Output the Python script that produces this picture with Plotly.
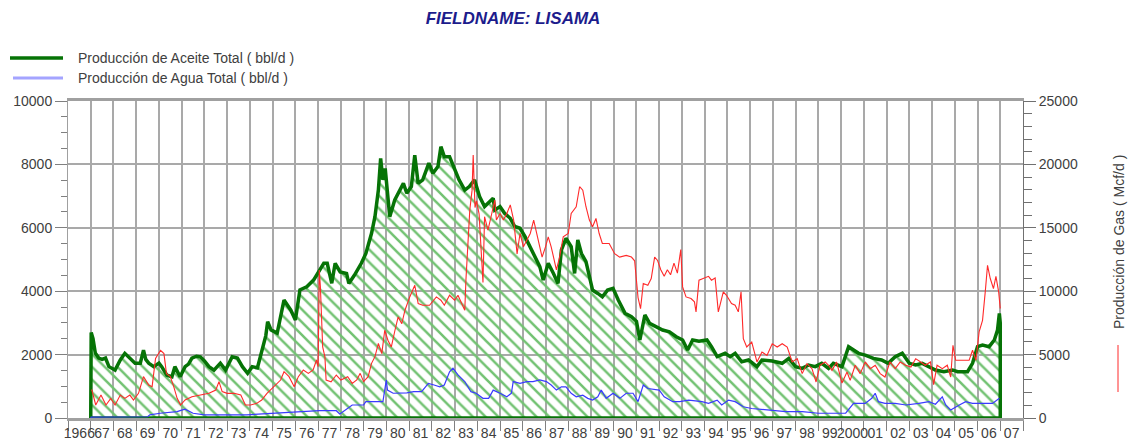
import plotly.graph_objects as go

# ---------------- data ----------------
oil_t = [1967.0, 1967.02, 1967.1, 1967.2, 1967.35, 1967.5, 1967.65, 1967.8, 1968.07, 1968.3, 1968.5, 1968.73,
         1968.95, 1969.18, 1969.32, 1969.42, 1969.55, 1969.77, 1970.0, 1970.12, 1970.35, 1970.57, 1970.7,
         1970.93, 1971.15, 1971.3, 1971.45, 1971.65, 1971.82, 1972.0, 1972.2, 1972.42, 1972.7, 1972.93,
         1973.22, 1973.45, 1973.67, 1973.9, 1974.1, 1974.33, 1974.55, 1974.7, 1974.78, 1974.93, 1975.2,
         1975.5, 1975.8, 1976.0, 1976.2, 1976.5, 1976.8, 1977.03, 1977.25, 1977.4, 1977.6, 1977.75, 1977.97,
         1978.25, 1978.35, 1978.6, 1978.9, 1979.1, 1979.35, 1979.5, 1979.65, 1979.75, 1979.85, 1979.95,
         1980.15, 1980.37, 1980.6, 1980.75, 1980.9, 1981.1, 1981.25, 1981.4, 1981.6, 1981.87, 1982.05,
         1982.27, 1982.4, 1982.55, 1982.78, 1983.0, 1983.2, 1983.45, 1983.65, 1983.88, 1984.1, 1984.32,
         1984.47, 1984.7, 1984.77, 1985.0, 1985.2, 1985.45, 1985.65, 1985.88, 1986.1, 1986.32, 1986.55,
         1986.75, 1986.9, 1987.12, 1987.35, 1987.55, 1987.7, 1987.9, 1988.13, 1988.28, 1988.42, 1988.58,
         1988.78, 1989.07, 1989.3, 1989.5, 1989.73, 1989.97, 1990.2, 1990.5, 1990.78, 1991.0, 1991.15,
         1991.37, 1991.58, 1991.85, 1992.15, 1992.45, 1992.75, 1993.03, 1993.25, 1993.47, 1993.75, 1994.1,
         1994.3, 1994.55, 1994.9, 1995.12, 1995.34, 1995.63, 1995.93, 1996.3, 1996.52, 1996.97, 1997.41,
         1997.7, 1998.0, 1998.29, 1998.57, 1998.86, 1999.15, 1999.45, 1999.66, 2000.04, 2000.33, 2000.55,
         2000.77, 2001.06, 2001.42, 2001.78, 2002.07, 2002.38, 2002.69, 2003.0, 2003.28, 2003.57, 2003.86,
         2004.15, 2004.52, 2004.9, 2005.12, 2005.56, 2005.78, 2006.0, 2006.22, 2006.51, 2006.74, 2006.88,
         2006.96, 2007.0, 2007.0]
oil_v = [0, 2700, 2500, 2050, 1890, 1850, 1890, 1620, 1510, 1830, 2040, 1890,
         1730, 1730, 2140, 1850, 1730, 1620, 1730, 1620, 1350, 1300, 1620,
         1300, 1620, 1700, 1890, 1950, 1930, 1800, 1620, 1510, 1730, 1510,
         1930, 1890, 1620, 1410, 1620, 1580, 2140, 2600, 3040, 2780, 2680,
         3720, 3400, 3090, 4040, 4140, 4350, 4610, 4880, 4880, 4250, 4880, 4610,
         4560, 4245, 4510, 4880, 5190, 5825, 6350, 7190, 8190, 7510, 7870,
         6350, 6880, 7190, 7400, 7090, 7300, 8290, 7400, 7510, 8040, 7720,
         7930, 8560, 8245, 8245, 7830, 7510, 7190, 7300, 7510, 6985, 6670,
         6770, 6930, 6560, 6670, 6460, 6300, 6040, 5985, 5720, 5410, 5090,
         4775, 4350, 4880, 4560, 4245, 5300, 5670, 5410, 4560, 5615, 5190,
         4930, 4035, 3930, 3825, 4035, 4090, 3720, 3300, 3195, 3050, 2460,
         3250, 2985, 2880, 2775, 2720, 2565, 2460, 2145, 2460, 2420, 2460,
         2250, 1935, 2040, 1935, 2040, 1775, 1830, 1620, 1830, 1800, 1725,
         1880, 1620, 1565, 1670, 1620, 1725, 1565, 1725, 1620, 2250, 2145,
         2040, 1985, 1880, 1830, 1725, 1935, 2040, 1725, 1670, 1725, 1620,
         1515, 1460, 1515, 1460, 1460, 1725, 2250, 2300, 2250, 2460, 2775,
         3300, 3000, 0]

water_t = [1967.0, 1967.02, 1969.5, 1969.6, 1970.05, 1970.8, 1971.0, 1971.15, 1971.5, 1972.0, 1973.85, 1975.0,
           1977.05, 1977.8, 1977.95, 1978.0, 1978.5, 1979.0, 1979.1, 1979.85, 1980.0, 1980.05, 1980.3, 1980.9,
           1981.2, 1981.55, 1981.85, 1982.1, 1982.35, 1982.55, 1982.78, 1982.93, 1983.15, 1983.45, 1983.72,
           1983.95, 1984.25, 1984.5, 1984.7, 1985.0, 1985.3, 1985.5, 1985.58, 1985.88, 1986.18, 1986.45,
           1986.75, 1987.04, 1987.25, 1987.48, 1987.7, 1987.9, 1988.13, 1988.35, 1988.64, 1988.86, 1989.07,
           1989.3, 1989.45, 1989.67, 1989.97, 1990.27, 1990.55, 1990.85, 1991.07, 1991.3, 1991.5, 1992.0,
           1992.22, 1992.6, 1992.9, 1993.3, 1993.88, 1994.17, 1994.55, 1994.75, 1995.05, 1995.34, 1995.7,
           1996.07, 1996.8, 1997.56, 1998.3, 1999.0, 1999.7, 2000.2, 2000.55, 2001.06, 2001.35, 2001.5,
           2001.64, 2001.93, 2002.38, 2002.85, 2003.42, 2003.86, 2004.15, 2004.45, 2004.6, 2004.82, 2005.2,
           2005.48, 2005.78, 2006.22, 2006.66, 2006.96]
water_v = [0, 30, 40, 100, 150, 200, 250, 280, 150, 100, 100, 150,
           230, 230, 125, 150, 410, 415, 515, 515, 1200, 880, 780, 790,
           830, 830, 1090, 1040, 985, 1040, 1460, 1570, 1360, 1150, 830,
           780, 620, 620, 880, 780, 670, 780, 1150, 1090, 1150, 1150,
           1200, 1150, 1040, 880, 985, 985, 780, 670, 720, 620, 565,
           670, 880, 620, 780, 620, 780, 780, 515, 1040, 930, 880,
           670, 515, 515, 565, 515, 460, 565, 410, 565, 515, 355,
           300, 250, 200, 200, 150, 150, 150, 460, 460, 620, 780,
           515, 460, 460, 410, 460, 515, 435, 670, 410, 250, 410,
           515, 460, 460, 460, 620]

gas_t = [1967.02, 1967.05, 1967.22, 1967.45, 1967.67, 1967.88, 1968.07, 1968.3, 1968.5, 1968.72, 1968.88, 1969.1,
         1969.32, 1969.55, 1969.7, 1969.85, 1970.07, 1970.22, 1970.33, 1970.5, 1970.65, 1970.8, 1970.95,
         1971.15, 1971.45, 1971.82, 1972.2, 1972.5, 1972.64, 1972.78, 1973.0, 1973.3, 1973.6, 1973.8,
         1974.03, 1974.3, 1974.52, 1974.75, 1974.9, 1975.12, 1975.35, 1975.5, 1975.72, 1975.95, 1976.13,
         1976.35, 1976.57, 1976.78, 1976.93, 1977.0, 1977.05, 1977.1, 1977.2, 1977.3, 1977.35, 1977.57,
         1977.8, 1978.0, 1978.3, 1978.5, 1978.7, 1978.85, 1979.0, 1979.2, 1979.35, 1979.5, 1979.65, 1979.8,
         1979.93, 1980.07, 1980.22, 1980.38, 1980.52, 1980.68, 1980.82, 1981.03, 1981.25, 1981.4, 1981.6,
         1981.9, 1982.2, 1982.4, 1982.55, 1982.78, 1983.0, 1983.15, 1983.3, 1983.45, 1983.5, 1983.6,
         1983.67, 1983.77, 1983.82, 1983.9, 1983.97, 1984.08, 1984.18, 1984.25, 1984.32, 1984.47, 1984.62,
         1984.77, 1984.84, 1985.0, 1985.15, 1985.3, 1985.45, 1985.6, 1985.75, 1985.88, 1986.03, 1986.18,
         1986.33, 1986.48, 1986.62, 1986.85, 1987.0, 1987.12, 1987.25, 1987.48, 1987.62, 1987.78, 1988.0,
         1988.13, 1988.35, 1988.5, 1988.64, 1988.78, 1988.93, 1989.07, 1989.22, 1989.36, 1989.5, 1989.8,
         1990.04, 1990.26, 1990.55, 1990.78, 1990.92, 1991.07, 1991.18, 1991.3, 1991.5, 1991.65, 1991.8,
         1991.93, 1992.07, 1992.22, 1992.36, 1992.5, 1992.65, 1992.8, 1992.95, 1993.03, 1993.18, 1993.4,
         1993.55, 1993.62, 1993.75, 1993.97, 1994.17, 1994.3, 1994.46, 1994.6, 1994.82, 1994.96, 1995.18,
         1995.34, 1995.48, 1995.6, 1995.7, 1995.85, 1996.07, 1996.3, 1996.52, 1996.74, 1996.97, 1997.19,
         1997.41, 1997.63, 1997.85, 1998.07, 1998.29, 1998.5, 1998.72, 1998.9, 1999.07, 1999.3, 1999.45,
         1999.6, 1999.8, 2000.04, 2000.26, 2000.4, 2000.62, 2000.84, 2001.06, 2001.28, 2001.5, 2001.72,
         2001.93, 2002.15, 2002.38, 2002.6, 2002.84, 2003.07, 2003.28, 2003.5, 2003.7, 2003.93, 2004.07,
         2004.22, 2004.45, 2004.67, 2004.82, 2004.92, 2005.04, 2005.34, 2005.63, 2005.78, 2005.93, 2006.07,
         2006.22, 2006.34, 2006.44, 2006.56, 2006.7, 2006.81, 2006.93, 2007.0]
gas_v = [2200, 2200, 1025, 1810, 1025, 1550, 1025, 1810, 1550, 1810, 1420, 1945,
         3260, 2600, 2470, 4700, 5340, 5080, 3500, 3260, 2470, 1550, 1025,
         1420, 1680, 1810, 1945, 2210, 2870, 2080, 1945, 1945, 1810, 1025,
         1025, 1155, 1420, 1945, 2210, 2600, 2995, 3650, 3260, 2470, 3260,
         3785, 3520, 3785, 4575, 4050, 11670, 10355, 5600, 4810, 2995, 2860,
         3390, 2995, 3260, 2730, 3000, 3520, 2870, 3260, 4310, 4840, 5890, 5080,
         6920, 6130, 5600, 6920, 7970, 7440, 8500, 9550, 10470, 9020, 8890,
         8890, 9550, 9290, 8890, 9680, 9290, 9680, 9020, 8500, 10870, 14810,
         16390, 17970, 20730, 16600, 17130, 16080, 12140, 10690, 15880, 14810, 15990,
         17180, 15610, 16130, 15610, 16130, 16800, 15610, 12940, 14550, 13500, 14030,
         14550, 15610, 14550, 12690, 13500, 14290, 13500, 11690, 12690, 14290, 14550,
         16130, 16660, 18240, 17970, 16660, 15610, 15080, 15740, 14550, 13760, 13760,
         12960, 12690, 12820, 12690, 12400, 9500, 8630, 10600, 10470, 11000, 12690,
         12420, 11690, 11170, 11690, 11300, 12210, 11430, 13290, 10340, 9550, 9420,
         9160, 8370, 10870, 11000, 11170, 10870, 11040, 8370, 9950, 9680, 9030,
         8900, 8370, 9950, 6260, 5600, 5990, 4420, 5210, 4940, 5860, 5600,
         5860, 5600, 4420, 4680, 3500, 4290, 3890, 2840, 4160, 4420, 4160,
         3760, 4420, 2760, 3630, 2970, 4160, 3500, 4420, 3890, 4160, 3500,
         3230, 4420, 3890, 4420, 4160, 4020, 4680, 4420, 4160, 4420, 2630,
         4160, 3890, 4160, 3230, 5730, 4550, 4550, 4550, 5340, 4550, 6790,
         7700, 9950, 12040, 11000, 10210, 11170, 9950, 8630]

year_ticks = [1966.5 + i for i in range(42)]
year_labels = ["1966"] + ["%02d" % (y % 100) for y in range(1967, 2000)] + ["2000"] + \
              ["%02d" % (y % 100) for y in range(2001, 2008)]

# ---------------- figure ----------------
FONT = "Liberation Sans, Arial, sans-serif"
TXT = "#404040"
GRID = "#a9a9a9"

fig = go.Figure()

fig.add_trace(go.Scatter(
    x=oil_t + [oil_t[0]], y=oil_v + [oil_v[0]], mode="lines",
    line=dict(color="#067306", width=3.5),
    fill="toself", fillcolor="rgba(255,255,255,0)",
    fillpattern=dict(shape="\\", fgcolor="#72c272", bgcolor="rgba(255,255,255,0)",
                     size=9, solidity=0.28, fillmode="replace"),
    name="Producción de Aceite Total ( bbl/d )", showlegend=False))

fig.add_trace(go.Scatter(
    x=water_t, y=water_v, mode="lines",
    line=dict(color="#3a3aff", width=1.2),
    name="Producción de Agua Total ( bbl/d )", showlegend=False))

fig.add_trace(go.Scatter(
    x=gas_t, y=gas_v, mode="lines", yaxis="y2",
    line=dict(color="#ff2a2a", width=1.1),
    name="Producción de Gas ( Mcf/d )", showlegend=False))

fig.update_layout(
    template="none",
    width=1133, height=442,
    margin=dict(l=68, r=110, t=101, b=24, autoexpand=False),
    paper_bgcolor="white", plot_bgcolor="white",
    font=dict(family=FONT, size=14, color=TXT),
    title=dict(text="<b><i>FIELDNAME: LISAMA</i></b>", x=513 / 1133, xref="container",
               xanchor="center", y=1 - 18 / 442, yref="container", yanchor="middle",
               font=dict(family=FONT, size=17, color="#1c1c8c")),
    xaxis=dict(range=[1966, 2008], tickmode="array", tickvals=year_ticks, ticktext=year_labels,
               tickangle=0, ticks="outside", ticklen=3, tickcolor="rgba(0,0,0,0)", showgrid=False,
               ticklabelstandoff=-3,
               zeroline=False, showline=True, mirror=True, linecolor="#a0a0a0", linewidth=2.5,
               tickfont=dict(family=FONT, size=14, color=TXT), automargin=False,
               minor=dict(tickmode="linear", tick0=1966, dtick=1, ticks="outside", ticklen=10,
                          tickcolor="#808080", showgrid=True, gridcolor=GRID, gridwidth=1.5)),
    yaxis=dict(range=[0, 10000], tickmode="linear", tick0=0, dtick=2000, tickformat="d",
               ticks="outside", ticklen=12, tickcolor="#808080", showgrid=True, gridcolor=GRID,
               gridwidth=2, zeroline=False, showline=True, linecolor="#a0a0a0", linewidth=1,
               tickfont=dict(family=FONT, size=14, color=TXT), automargin=False,
               minor=dict(dtick=500, ticks="outside", ticklen=6, tickcolor="#808080", showgrid=False)),
    yaxis2=dict(range=[0, 25000], overlaying="y", side="right", anchor="x", tickmode="linear",
                tick0=0, dtick=5000, tickformat="d", ticks="outside", ticklen=12, tickcolor="#707070",
                showgrid=False, zeroline=False, showline=True, linecolor="#707070", linewidth=1,
                tickfont=dict(family=FONT, size=14, color=TXT), automargin=False,
                minor=dict(dtick=1000, ticks="outside", ticklen=8, tickcolor="#707070", showgrid=False)),
)

W, H, L, B = 955.0, 317.0, 68.0, 418.0


def px(x):
    return (x - L) / W


def py(y):
    return (B - y) / H


shapes = [
    dict(type="line", xref="paper", yref="paper", x0=px(10), x1=px(63), y0=py(58), y1=py(58),
         line=dict(color="#067306", width=3.5)),
    dict(type="line", xref="paper", yref="paper", x0=px(13), x1=px(63), y0=py(78), y1=py(78),
         line=dict(color="#a4a4ff", width=3)),
    dict(type="line", xref="paper", yref="paper", x0=px(1118), x1=px(1118), y0=py(392), y1=py(345),
         line=dict(color="#ff2a2a", width=1)),
]
annotations = [
    dict(text="Producción de Aceite Total ( bbl/d )", xref="paper", yref="paper", x=px(76), y=py(58),
         xanchor="left", yanchor="middle", showarrow=False, font=dict(family=FONT, size=14, color=TXT)),
    dict(text="Producción de Agua Total ( bbl/d )", xref="paper", yref="paper", x=px(76), y=py(78),
         xanchor="left", yanchor="middle", showarrow=False, font=dict(family=FONT, size=14, color=TXT)),
    dict(text="Producción de Gas ( Mcf/d )", xref="paper", yref="paper", x=px(1119), y=py(242),
         xanchor="center", yanchor="middle", textangle=-90, showarrow=False,
         font=dict(family=FONT, size=14, color=TXT)),
]
fig.update_layout(shapes=shapes, annotations=annotations)

fig.write_html("out.html", config={"displayModeBar": False},
               post_script="document.body.style.margin='0px';")
